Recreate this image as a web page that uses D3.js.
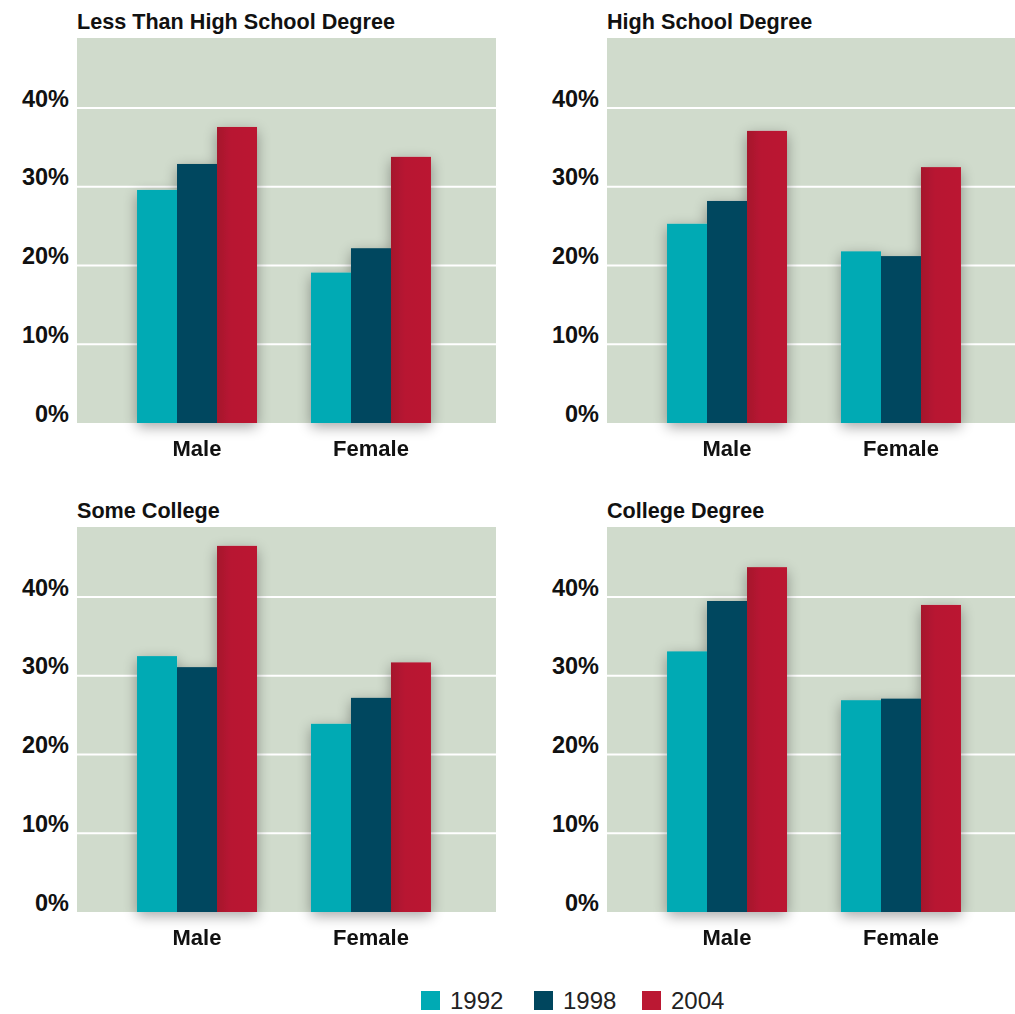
<!DOCTYPE html>
<meta charset="utf-8">
<head>
<style>
  body { margin: 0; background: #fff; }
  text { font-family: "Liberation Sans", Arial, sans-serif; }
</style>
</head>
<body>
<script src="https://d3js.org/d3.v7.min.js"></script>
<div id="my_dataviz"></div>

<script>
    // data (percent)
    var panels = ["Less Than High School Degree", "High School Degree", "Some College", "College Degree"];
    var genders = ["Male", "Female"];
    var years = ["1992", "1998", "2004"];
    var yTicks = [0, 10, 20, 30, 40];
    // one entry per panel: [Male, Female]
    var v1992 = [[29.6, 19.1], [25.3, 21.8], [32.5, 23.9], [33.1, 26.9]];
    var v1998 = [[32.9, 22.2], [28.2, 21.2], [31.1, 27.2], [39.5, 27.1]];
    var v2004 = [[37.6, 33.8], [37.1, 32.5], [46.5, 31.7], [43.8, 39.0]];
    var seriesVals = {"1992": v1992, "1998": v1998, "2004": v2004};

    var colors = {"1992": "#00aab4", "1998": "#00465e", "2004": "#bb1833"};

    var W = 1015, H = 1014;
    var plotW = 419, plotH = 385;
    var yMax = 48.9;

    var svg = d3.select("#my_dataviz")
      .append("svg")
        .attr("width", W)
        .attr("height", H);

    var defs = svg.append("defs");
    var shadow = defs.append("filter")
        .attr("id", "shadow")
        .attr("x", "-30%").attr("y", "-20%")
        .attr("width", "160%").attr("height", "140%");
    shadow.append("feGaussianBlur")
        .attr("in", "SourceAlpha")
        .attr("stdDeviation", 7);
    shadow.append("feOffset").attr("dx", 0).attr("dy", 4).attr("result", "blur");
    shadow.append("feComponentTransfer")
      .append("feFuncA").attr("type", "linear").attr("slope", 0.35);
    var merge = shadow.append("feMerge");
    merge.append("feMergeNode");
    merge.append("feMergeNode").attr("in", "SourceGraphic");

    // red bars get a darker strip on their left edge
    var grad = defs.append("linearGradient")
        .attr("id", "redGrad")
        .attr("x1", "0%").attr("x2", "100%");
    grad.append("stop").attr("offset", "0%").attr("stop-color", "#a5132c");
    grad.append("stop").attr("offset", "35%").attr("stop-color", "#b81832");
    grad.append("stop").attr("offset", "100%").attr("stop-color", "#bb1833");

    var x = d3.scaleBand()
      .domain(genders)
      .range([0, 414])
      .paddingInner(0.3103)
      .paddingOuter(0.345);

    var xSub = d3.scaleBand()
      .domain(years)
      .range([0, x.bandwidth()])
      .padding(0);

    var y = d3.scaleLinear()
      .domain([0, yMax])
      .range([plotH, 0]);

    var origins = [[77, 38], [607, 38], [77, 527], [607, 527]];

    panels.forEach(function(name, p) {
      var g = svg.append("g")
        .attr("transform", "translate(" + origins[p][0] + "," + origins[p][1] + ")");
      var bgW = p % 2 == 0 ? plotW : W - origins[p][0];

      // background
      g.append("rect")
        .attr("x", 0).attr("y", 0)
        .attr("width", bgW)
        .attr("height", plotH)
        .attr("fill", "#d0dbcc");

      // grid lines
      g.selectAll(".grid")
        .data(yTicks.filter(function(d){ return d > 0; }))
        .enter().append("line")
          .attr("x1", 0)
          .attr("x2", bgW)
          .attr("y1", function(d){ return y(d); })
          .attr("y2", function(d){ return y(d); })
          .attr("stroke", "#fff")
          .attr("stroke-width", 2);

      // tick labels
      g.selectAll(".tick")
        .data(yTicks)
        .enter().append("text")
          .attr("x", -8)
          .attr("y", function(d){ return y(d) - 1.5; })
          .attr("text-anchor", "end")
          .attr("font-size", "23.5px")
          .attr("font-weight", "bold")
          .attr("fill", "#111")
          .text(function(d){ return d + "%"; });

      // title
      g.append("text")
        .attr("x", 0)
        .attr("y", -9.5)
        .attr("font-size", "21.6px")
        .attr("font-weight", "bold")
        .attr("fill", "#111")
        .text(name);

      // bars
      var bars = g.append("g").attr("filter", "url(#shadow)");
      bars.selectAll("g")
        .data(genders)
        .enter().append("g")
          .attr("transform", function(d){ return "translate(" + x(d) + ",0)"; })
        .selectAll("rect")
        .data(function(d, i) {
          return years.map(function(yr){ return {key: yr, value: seriesVals[yr][p][i]}; });
        })
        .enter().append("rect")
          .attr("x", function(d){ return xSub(d.key); })
          .attr("y", function(d){ return y(d.value); })
          .attr("width", xSub.bandwidth())
          .attr("height", function(d){ return plotH - y(d.value); })
          .attr("fill", function(d){ return d.key == "2004" ? "url(#redGrad)" : colors[d.key]; });

      // x labels
      g.selectAll(".xlab")
        .data(genders)
        .enter().append("text")
          .attr("x", function(d){ return x(d) + x.bandwidth() / 2; })
          .attr("y", plotH + 33)
          .attr("text-anchor", "middle")
          .attr("font-size", "22px")
          .attr("font-weight", "bold")
          .attr("fill", "#111")
          .text(function(d){ return d; });
    });

    // legend
    var legendX = [421, 534, 642];
    var legend = svg.append("g").attr("class", "legend");
    legend.selectAll("rect")
      .data(years)
      .enter().append("rect")
        .attr("x", function(d, i){ return legendX[i]; })
        .attr("y", 991)
        .attr("width", 19)
        .attr("height", 19)
        .attr("fill", function(d){ return colors[d]; });
    legend.selectAll("text")
      .data(years)
      .enter().append("text")
        .attr("x", function(d, i){ return legendX[i] + 29; })
        .attr("y", 1009)
        .attr("font-size", "24px")
        .attr("fill", "#222")
        .text(function(d){ return d; });
</script>
</body>
